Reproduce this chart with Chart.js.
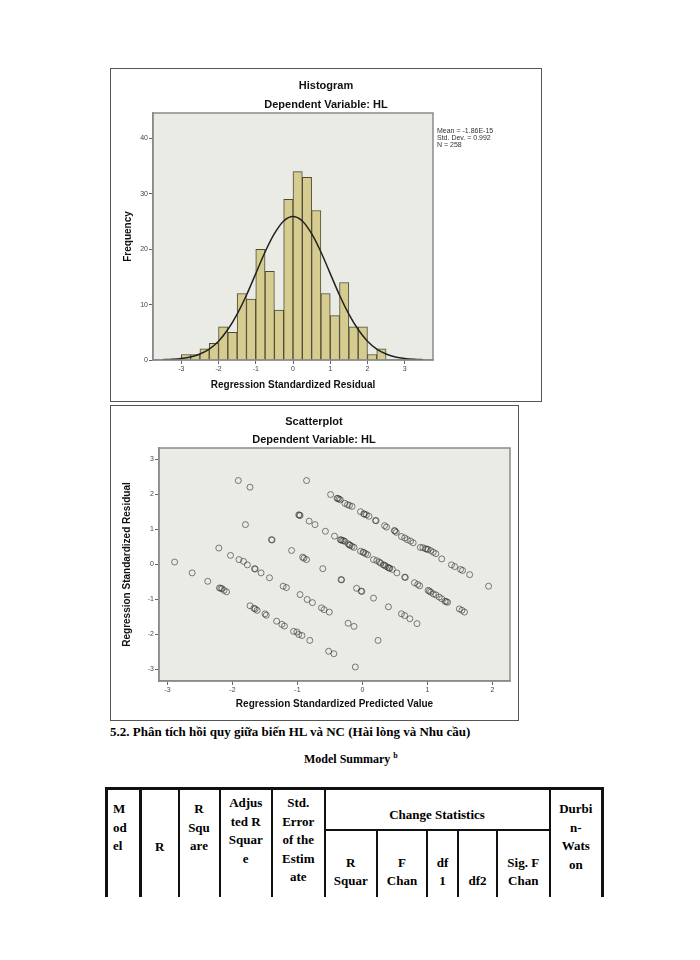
<!DOCTYPE html>
<html>
<head>
<meta charset="utf-8">
<script src="https://cdn.jsdelivr.net/npm/chart.js@4.4.1/dist/chart.umd.min.js"></script>
<style>
  body { margin: 0; width: 700px; height: 960px; position: relative; overflow: hidden; background: #fff;
         font-family: "Liberation Serif", "Times New Roman", serif; color: #000; }
  .frame { position: absolute; border: 1px solid #555; box-sizing: border-box; background: #fff; }
  .frame canvas { position: absolute; left: 0; top: 0; }
  .ctitle { position: absolute; font: bold 11px "Liberation Sans", Arial, sans-serif; color: #111;
            white-space: nowrap; transform: translate(-50%, -50%); }
  .stats { position: absolute; left: 437px; top: 127px; font: 7px/7px "Liberation Sans", Arial, sans-serif; color: #333; }
  .heading { position: absolute; font: bold 13px/16px "Liberation Serif", "Times New Roman", serif; white-space: nowrap; }
  .heading sup { font-size: 8px; }
  #tbl { position: absolute; left: 105px; top: 787px; width: 499px; height: 110px; overflow: hidden; }
  #tbl .b { position: absolute; background: #111; }
  #tbl .tc { position: absolute; font: bold 13px/18.5px "Liberation Serif", "Times New Roman", serif; text-align: center; }
</style>
</head>
<body>

<div class="frame" style="left:110px;top:68px;width:432px;height:334px">
  <canvas id="histChart" width="430" height="332"></canvas>
</div>
<div class="ctitle" style="left:326px;top:85px">Histogram</div>
<div class="ctitle" style="left:326px;top:104px">Dependent Variable: HL</div>
<div class="stats">Mean = -1.86E-15<br>Std. Dev. = 0.992<br>N = 258</div>

<div class="frame" style="left:110px;top:405px;width:409px;height:316px">
  <canvas id="scatterChart" width="407" height="314"></canvas>
</div>
<div class="ctitle" style="left:314px;top:421px">Scatterplot</div>
<div class="ctitle" style="left:314px;top:439px">Dependent Variable: HL</div>

<div class="heading" style="left:110px;top:724px">5.2. Phân tích hồi quy giữa biến HL và NC (Hài lòng và Nhu cầu)</div>
<div class="heading" style="left:304px;top:748px;font-size:12px">Model Summary <sup>b</sup></div>

<div id="tbl">
  <div class="b" style="left:0;top:0;width:499px;height:3px"></div>
  <div class="b" style="left:0;top:0;width:3px;height:110px"></div>
  <div class="b" style="left:496px;top:0;width:3px;height:110px"></div>
  <div class="b" style="left:34px;top:0;width:3px;height:110px"></div>
  <div class="b" style="left:72.5px;top:0;width:2px;height:110px"></div>
  <div class="b" style="left:113.5px;top:0;width:2px;height:110px"></div>
  <div class="b" style="left:166px;top:0;width:2px;height:110px"></div>
  <div class="b" style="left:218.5px;top:0;width:2px;height:110px"></div>
  <div class="b" style="left:443.5px;top:0;width:2px;height:110px"></div>
  <div class="b" style="left:218.5px;top:42px;width:227px;height:2px"></div>
  <div class="b" style="left:271px;top:42px;width:2px;height:68px"></div>
  <div class="b" style="left:321px;top:42px;width:2px;height:68px"></div>
  <div class="b" style="left:352px;top:42px;width:2px;height:68px"></div>
  <div class="b" style="left:391px;top:42px;width:2px;height:68px"></div>

  <div class="tc" style="left:8px;top:13px;text-align:left">M<br>od<br>el</div>
  <div class="tc" style="left:37px;top:50.5px;width:35.5px">R</div>
  <div class="tc" style="left:74.5px;top:13px;width:39px">R<br>Squ<br>are</div>
  <div class="tc" style="left:115.5px;top:7px;width:50.5px">Adjus<br>ted R<br>Squar<br>e</div>
  <div class="tc" style="left:168px;top:7px;width:50.5px">Std.<br>Error<br>of the<br>Estim<br>ate</div>
  <div class="tc" style="left:220.5px;top:18.75px;width:223px">Change Statistics</div>
  <div class="tc" style="left:220.5px;top:66.5px;width:50.5px">R<br>Squar</div>
  <div class="tc" style="left:273px;top:66.5px;width:48px">F<br>Chan</div>
  <div class="tc" style="left:323px;top:66.5px;width:29px">df<br>1</div>
  <div class="tc" style="left:354px;top:84.5px;width:37px">df2</div>
  <div class="tc" style="left:393px;top:66.5px;width:50.5px">Sig. F<br>Chan</div>
  <div class="tc" style="left:445.5px;top:13px;width:50.5px">Durbi<br>n-<br>Wats<br>on</div>
</div>

<script>
// Histogram: bins 0.25 wide, from -3 to 2.5
const histBinCenters = [-2.875, -2.625, -2.375, -2.125, -1.875, -1.625, -1.375, -1.125, -0.875, -0.625, -0.375,
  -0.125, 0.125, 0.375, 0.625, 0.875, 1.125, 1.375, 1.625, 1.875, 2.125, 2.375];
const histFrequency = [1, 1, 2, 3, 6, 5, 12, 11, 20, 16, 9, 29, 34, 33, 27, 12, 8, 14, 6, 6, 1, 2];

// Normal curve
const normalCurveX = [-3.5, -3.25, -3, -2.75, -2.5, -2.25, -2, -1.75, -1.5, -1.25, -1, -0.75, -0.5, -0.25, 0,
  0.25, 0.5, 0.75, 1, 1.25, 1.5, 1.75, 2, 2.25, 2.5, 2.75, 3, 3.25, 3.5];
const normalCurveY = [0.05, 0.12, 0.27, 0.56, 1.08, 1.98, 3.4, 5.5, 8.3, 11.7, 15.6, 19.5, 22.8, 25.1, 25.9,
  25.1, 22.8, 19.5, 15.6, 11.7, 8.3, 5.5, 3.4, 1.98, 1.08, 0.56, 0.27, 0.12, 0.05];

// Scatterplot: standardized predicted value vs standardized residual
const predictedValues = [
  -0.86, -0.49, -0.39, -0.38, -0.36, -0.34, -0.27, -0.23, -0.20, -0.16, -0.03, 0.02, 0.03, 0.06, 0.10,
  0.20, 0.21, 0.34, 0.37, 0.49, 0.50, 0.52, 0.60, 0.65, 0.69, 0.74, 0.78, 0.89, 0.93, 0.97, 0.99, 1.01,
  1.05, 1.09, 1.13, 1.22, 1.37, 1.42, 1.51, 1.54, 1.65, 1.94,
  -1.91, -1.73, -0.98, -0.97, -0.96, -0.82, -0.73, -0.57, -0.43, -0.34, -0.33, -0.31, -0.29, -0.27, -0.22,
  -0.20, -0.19, -0.16, -0.13, -0.03, 0.01, 0.02, 0.05, 0.08, 0.17, 0.22, 0.26, 0.28, 0.32, 0.34, 0.36,
  0.39, 0.41, 0.42, 0.46, 0.53, 0.65, 0.66, 0.80, 0.85, 0.88, 1.01, 1.03, 1.05, 1.09, 1.13, 1.18, 1.22,
  1.27, 1.29, 1.31, 1.49, 1.53, 1.57,
  -1.80, -1.40, -1.39, -1.09, -0.92, -0.90, -0.86, -0.61, -0.33, -0.32, -0.09, -0.02, -0.01, 0.17, 0.40,
  0.60, 0.65, 0.73, 0.84,
  -2.21, -2.03, -1.90, -1.83, -1.77, -1.66, -1.65, -1.56, -1.43, -1.22, -1.17, -0.96, -0.85, -0.77, -0.63,
  -0.59, -0.51, -0.22, -0.13, 0.24,
  -2.89, -2.62, -2.38, -2.20, -2.18, -2.16, -2.13, -2.09, -1.73, -1.67, -1.65, -1.62, -1.50, -1.48, -1.32,
  -1.24, -1.20, -1.06, -1.01, -0.98, -0.93, -0.81, -0.52, -0.44, -0.11
];
const residualValues = [
  2.40, 2.00, 1.89, 1.89, 1.87, 1.85, 1.75, 1.71, 1.69, 1.66, 1.51, 1.45, 1.44, 1.42, 1.38,
  1.26, 1.25, 1.11, 1.07, 0.97, 0.96, 0.92, 0.80, 0.76, 0.71, 0.67, 0.62, 0.49, 0.48, 0.45, 0.44, 0.43,
  0.40, 0.35, 0.31, 0.16, -0.01, -0.06, -0.14, -0.17, -0.29, -0.62,
  2.40, 2.21, 1.42, 1.41, 1.40, 1.24, 1.14, 0.95, 0.81, 0.71, 0.70, 0.69, 0.68, 0.66, 0.59,
  0.56, 0.55, 0.52, 0.49, 0.38, 0.35, 0.34, 0.31, 0.28, 0.14, 0.11, 0.07, 0.04, -0.01, -0.02, -0.05,
  -0.08, -0.10, -0.11, -0.14, -0.24, -0.36, -0.37, -0.52, -0.57, -0.61, -0.74, -0.76, -0.79, -0.84, -0.87, -0.93, -0.98,
  -1.05, -1.06, -1.08, -1.27, -1.31, -1.36,
  1.14, 0.71, 0.70, 0.40, 0.21, 0.18, 0.14, -0.12, -0.43, -0.44, -0.68, -0.76, -0.77, -0.96, -1.21,
  -1.41, -1.46, -1.55, -1.69,
  0.47, 0.26, 0.14, 0.09, -0.01, -0.12, -0.13, -0.24, -0.38, -0.62, -0.66, -0.86, -1.00, -1.09, -1.24,
  -1.29, -1.36, -1.68, -1.77, -2.17,
  0.07, -0.24, -0.48, -0.67, -0.68, -0.69, -0.74, -0.78, -1.18, -1.25, -1.27, -1.31, -1.41, -1.45, -1.62,
  -1.71, -1.76, -1.91, -1.93, -2.00, -2.03, -2.17, -2.48, -2.55, -2.93
];

const histXTicks = [-3, -2, -1, 0, 1, 2, 3];
const histYTicks = [0, 10, 20, 30, 40];
const scatterXTicks = [-3, -2, -1, 0, 1, 2];
const scatterYTicks = [-3, -2, -1, 0, 1, 2, 3];

Chart.defaults.font.family = '"Liberation Sans", Arial, sans-serif';
Chart.defaults.color = '#333';

// Fond gris de la zone de tracé + cadre
const plotBox = {
  id: 'plotBox',
  beforeDraw(chart) {
    const { ctx, chartArea: a } = chart;
    ctx.save();
    ctx.fillStyle = '#ebebe5';
    ctx.fillRect(a.left, a.top, a.right - a.left, a.bottom - a.top);
    ctx.restore();
  },
  afterDraw(chart) {
    const { ctx, chartArea: a } = chart;
    ctx.save();
    ctx.strokeStyle = '#8a8a8a';
    ctx.lineWidth = 1.5;
    ctx.strokeRect(a.left, a.top, a.right - a.left, a.bottom - a.top);
    ctx.restore();
  }
};

function makeAxis(min, max, tickList, title, size, titlePad, horizontal) {
  return {
    type: 'linear',
    min: min,
    max: max,
    offset: false,
    afterBuildTicks: (s) => { s.ticks = tickList.map((v) => ({ value: v })); },
    afterFit: (s) => { if (horizontal) s.height = size; else s.width = size; },
    grid: { display: true, offset: false, drawOnChartArea: false, drawTicks: true, tickLength: 4, color: '#666' },
    border: { display: true, color: '#8a8a8a', width: 1.5 },
    ticks: { font: { size: 7 }, color: '#444', padding: 1, maxRotation: 0, autoSkip: false },
    title: {
      display: true,
      text: title,
      color: '#111',
      font: { size: 10, weight: 'bold' },
      padding: horizontal ? { top: 0, bottom: titlePad } : { top: titlePad, bottom: 0 }
    }
  };
}

new Chart(document.getElementById('histChart'), {
  type: 'bar',
  data: {
    datasets: [
      {
        type: 'line',
        order: 0,
        data: normalCurveX.map((x, i) => ({ x: x, y: normalCurveY[i] })),
        borderColor: '#222',
        borderWidth: 1.5,
        pointRadius: 0,
        cubicInterpolationMode: 'monotone',
        fill: false
      },
      {
        type: 'bar',
        order: 1,
        data: histBinCenters.map((x, i) => ({ x: x, y: histFrequency[i] })),
        backgroundColor: '#d6cc8f',
        borderColor: '#4d4a38',
        borderWidth: 1,
        barPercentage: 1,
        categoryPercentage: 1
      }
    ]
  },
  options: {
    responsive: false,
    animation: false,
    devicePixelRatio: 1,
    layout: { padding: { left: 0, right: 108, top: 44, bottom: 0 } },
    plugins: { legend: { display: false }, tooltip: { enabled: false } },
    scales: {
      x: makeAxis(-3.76, 3.76, histXTicks, 'Regression Standardized Residual', 41, 10, true),
      y: makeAxis(0, 44.6, histYTicks, 'Frequency', 42, 11, false)
    }
  },
  plugins: [plotBox]
});

new Chart(document.getElementById('scatterChart'), {
  type: 'scatter',
  data: {
    datasets: [{
      data: predictedValues.map((x, i) => ({ x: x, y: residualValues[i] })),
      backgroundColor: 'rgba(0,0,0,0)',
      borderColor: 'rgba(45,45,45,0.6)',
      borderWidth: 1,
      pointRadius: 3,
      pointStyle: 'circle'
    }]
  },
  options: {
    responsive: false,
    animation: false,
    devicePixelRatio: 1,
    layout: { padding: { left: 0, right: 8, top: 42, bottom: 0 } },
    plugins: { legend: { display: false }, tooltip: { enabled: false } },
    scales: {
      x: makeAxis(-3.13, 2.27, scatterXTicks, 'Regression Standardized Predicted Value', 39, 10, true),
      y: makeAxis(-3.33, 3.33, scatterYTicks, 'Regression Standardized Residual', 48, 10, false)
    }
  },
  plugins: [plotBox]
});
</script>
</body>
</html>
